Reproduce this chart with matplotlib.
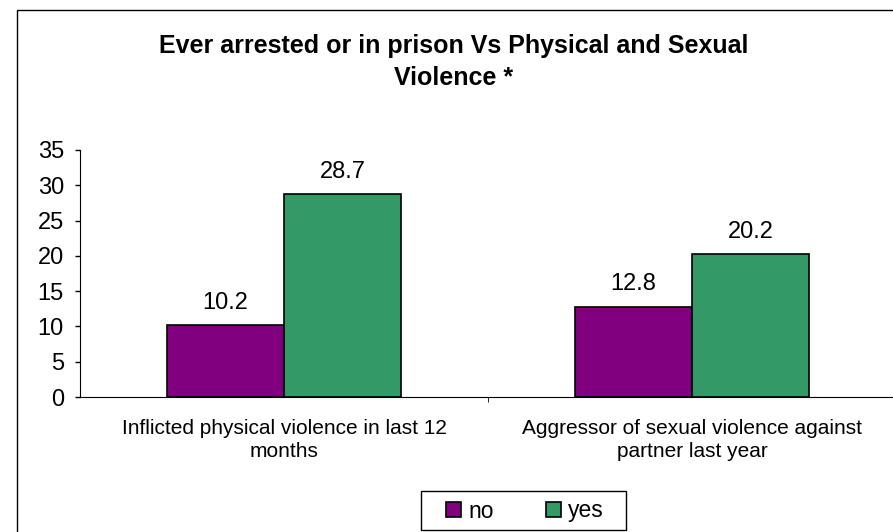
import matplotlib.pyplot as plt
import numpy as np
from matplotlib.patches import Rectangle

plt.rcParams['font.family'] = ['Liberation Sans', 'DejaVu Sans']

categories = ['Inflicted physical violence in last 12\nmonths',
              'Aggressor of sexual violence against\npartner last year']
series_names = ['no', 'yes']
no_vals = [10.2, 12.8]
yes_vals = [28.7, 20.2]
colors = ['#800080', '#339966']

W, H = 893, 532
fig = plt.figure(figsize=(W / 100, H / 100), dpi=100)

def fx(px):
    return px / W

def fy(py):
    return 1 - py / H

# outer chart frame (runs off the right and bottom edges)
fig.patches.append(Rectangle((fx(17), -0.05), 1.0, fy(10) + 0.05,
                             transform=fig.transFigure, fill=False,
                             edgecolor='black', linewidth=1.0))

ax = fig.add_axes([fx(80), fy(397), fx(816), (397 - 150) / H])
x = np.arange(len(categories))
w = 0.287
b1 = ax.bar(x - w / 2, no_vals, w, color=colors[0], edgecolor='black', linewidth=1.2, label=series_names[0])
b2 = ax.bar(x + w / 2, yes_vals, w, color=colors[1], edgecolor='black', linewidth=1.2, label=series_names[1])

# value labels above the bars
for bars, vals in [(b1, no_vals), (b2, yes_vals)]:
    for r, v in zip(bars, vals):
        ax.annotate(f'{v:.1f}', (r.get_x() + r.get_width() / 2, v),
                    xytext=(0, 16), textcoords='offset points',
                    ha='center', va='center', fontsize=17)

ax.set_xlim(-0.5, 1.5)
ax.set_ylim(0, 35)
ax.set_yticks(range(0, 36, 5))
ax.tick_params(axis='y', labelsize=17, direction='out', length=3.6, pad=8, width=1)
ax.set_xticks([0.5], minor=True)
ax.set_xticks([])
ax.tick_params(axis='x', which='minor', length=3.6, direction='out', labelbottom=False)
ax.spines['top'].set_visible(False)
ax.spines['right'].set_visible(False)

# category labels under each group
for xi, lab in zip(x, categories):
    ax.annotate(lab, (xi, 0), xytext=(0, -15.5), textcoords='offset points',
                ha='center', va='top', fontsize=15, linespacing=1.3)

# title
fig.text(fx(454), fy(46), 'Ever arrested or in prison Vs Physical and Sexual',
         ha='center', va='center', fontsize=18, fontweight='bold')
fig.text(fx(454), fy(78), 'Violence *',
         ha='center', va='center', fontsize=18, fontweight='bold')

# legend
leg = ax.legend(loc='center', bbox_to_anchor=(fx(525), fy(511)),
                bbox_transform=fig.transFigure, ncol=2, fontsize=16.5, frameon=False,
                handlelength=0.65, handleheight=0.65, handletextpad=0.3,
                columnspacing=2.3, borderpad=0.2)
fig.patches.append(Rectangle((fx(421), fy(530)), fx(626 - 421), (530 - 491) / H,
                             transform=fig.transFigure, fill=False,
                             edgecolor='black', linewidth=1.0))

fig.savefig('out.png', dpi=100)
